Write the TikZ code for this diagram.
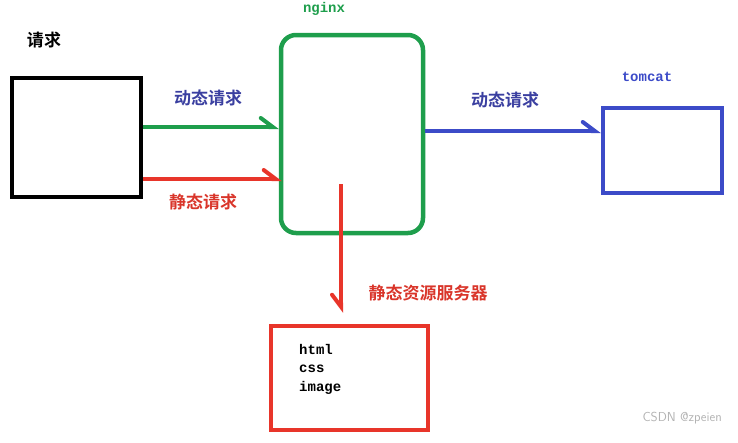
\documentclass[tikz,border=0pt]{standalone}
\usepackage{fontspec}
\setmonofont{Liberation Mono}
\newfontfamily\cjk{Noto Sans CJK SC}[BoldFont={Noto Sans CJK SC Bold}]
\usetikzlibrary{arrows.meta}
\definecolor{cgreen}{HTML}{1E9E4C}
\definecolor{cred}{HTML}{E8352A}
\definecolor{cblue}{HTML}{3C4BC8}
\definecolor{tblue}{HTML}{3A3FA0}
\definecolor{tred}{HTML}{D9352A}
\tikzset{
  box/.style={draw, line width=4.5pt, inner sep=0pt},
  cn/.style={font=\cjk\bfseries\fontsize{17}{20}\selectfont, inner sep=0pt},
  mono/.style={font=\ttfamily\bfseries\fontsize{14}{17}\selectfont, inner sep=0pt},
  conn/.style={line width=4pt},
  barbL/.style={-{Straight Barb[left,length=12pt,width=18pt,line cap=round]}},
  barbR/.style={-{Straight Barb[right,length=12pt,width=18pt,line cap=round]}},
}
\begin{document}
\begin{tikzpicture}[x=1pt,y=-1pt]
\useasboundingbox (0,0) rectangle (738,442);
% nodes
\node[box, draw=black, minimum width=129pt, minimum height=119pt] (blk) at (76.5,137.5) {};
\node[box, draw=cgreen, rounded corners=15pt, minimum width=142pt, minimum height=198pt] (ngx) at (352,134) {};
\node[box, draw=cblue, minimum width=119pt, minimum height=85pt] (tom) at (662.5,150.5) {};
\node[box, draw=cred, minimum width=157pt, minimum height=104pt] (res) at (349.5,378) {};
% labels
\node[cn, text=black] (lq) at (44,40) {请求};
\node[mono, text=cgreen] (lngx) at (324,9) {nginx};
\node[mono, text=cblue] (ltom) at (647,77) {tomcat};
\node[cn, text=tblue] (ld1) at (208,98) {动态请求};
\node[cn, text=tred] (ls1) at (203,202) {静态请求};
\node[cn, text=tblue] (ld2) at (505,100) {动态请求};
\node[cn, text=tred] (ls2) at (428,293) {静态资源服务器};
\node[mono, text=black, anchor=west] (h1) at (299,349) {html};
\node[mono, text=black, anchor=west] (h2) at (299,369) {css};
\node[mono, text=black, anchor=west] (h3) at (299,388) {image};
\node[font=\sffamily\fontsize{13}{15}\selectfont, text=black!30, anchor=east, inner sep=0pt] (wm) at (722,418) {CSDN @zpeien};
% connectors
\draw[conn, cgreen, barbL] ([yshift=10.5pt]blk.east) -- ([yshift=7pt]ngx.west);
\draw[conn, cred, barbL] ([yshift=-41.5pt]blk.east) -- ([xshift=3pt,yshift=-45pt]ngx.west);
\draw[conn, cblue, barbL] ([yshift=3pt]ngx.east) -- ([yshift=19.5pt]tom.west);
\draw[conn, cred, barbR] ([xshift=-11pt,yshift=51pt]ngx.south) -- ([xshift=-8.5pt,yshift=11pt]res.north);
\end{tikzpicture}
\end{document}
